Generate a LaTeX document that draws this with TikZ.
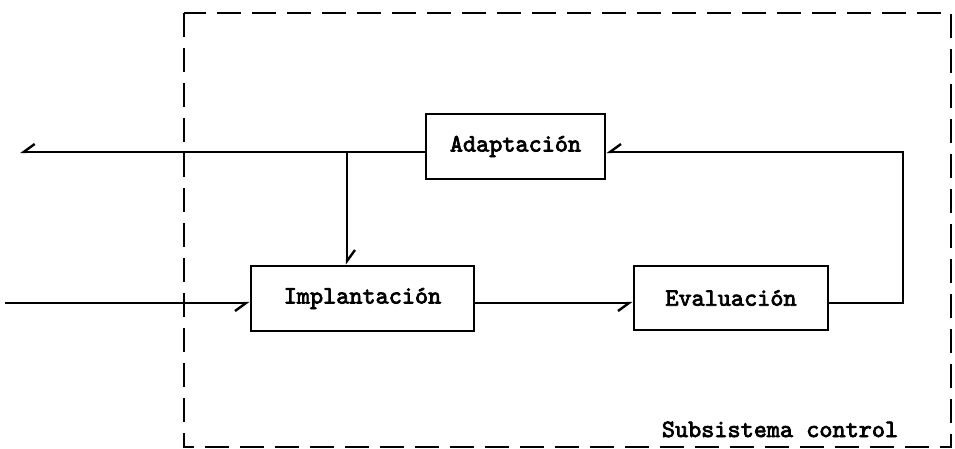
\documentclass[tikz,border=0pt]{standalone}
\usepackage{fontspec}
\usetikzlibrary{arrows.meta}
\newfontfamily\tw{lmmono10-regular}[Extension=.otf, FakeBold=3]
\tikzset{
  box/.style={draw, line width=2.6pt, inner sep=0pt, font=\tw\fontsize{25}{28}\selectfont},
  conn/.style={line width=2.6pt},
  barbL/.style={conn, -{Straight Barb[harpoon, length=11pt, width=16pt, line width=2.4pt]}},
  barbR/.style={conn, -{Straight Barb[harpoon, swap, length=11pt, width=16pt, line width=2.4pt]}},
  subsys/.style={draw, line width=2.8pt, dash pattern=on 24pt off 11pt},
  lbl/.style={font=\tw\fontsize{25}{28}\selectfont, inner sep=0pt}
}
\begin{document}
\begin{tikzpicture}[x=1pt, y=-1pt]
\useasboundingbox (0,0) rectangle (955,449);
\fill[white] (0,0) rectangle (955,449);

\draw[subsys] (184,13) rectangle (951,447);

\node[box, minimum width=179pt, minimum height=65pt] (ad) at (515.5,146.5) {Adaptación};
\node[box, minimum width=223pt, minimum height=65pt] (im) at (362.5,298.5) {Implantación};
\node[box, minimum width=194pt, minimum height=64pt] (ev) at (731,298) {Evaluación};

\node[lbl, anchor=base] (sl) at (780,437) {Subsistema control};

\coordinate (outL) at (20,152);
\coordinate (inL) at (5,303);
\coordinate (fbR) at (903,152);
\coordinate (jn) at (347,152);

\draw[barbR] (ad.west |- outL) -- (outL);
\draw[barbL] (jn) -- (jn |- im.north);
\draw[barbR] (inL) -- (inL -| im.west);
\draw[barbR] (im.east |- inL) -- (inL -| ev.west);
\draw[barbR] (ev.east |- inL) -| (fbR) -- (fbR -| ad.east);
\end{tikzpicture}
\end{document}
